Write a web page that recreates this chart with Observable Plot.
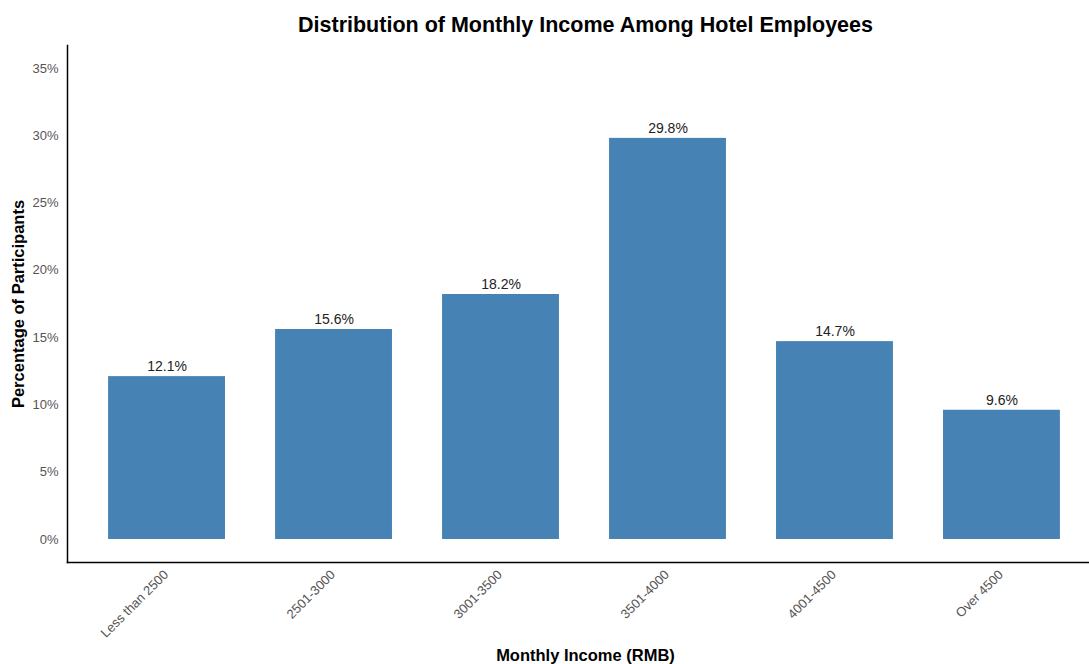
<!DOCTYPE html>
<html>
<head>
<meta charset="utf-8">
<script src="https://cdn.jsdelivr.net/npm/d3@7"></script>
<script src="https://cdn.jsdelivr.net/npm/@observablehq/plot@0.6"></script>
<style>
  body { margin: 0; background: #fff; }
  svg { font-family: "Liberation Sans", Arial, sans-serif; }
</style>
</head>
<body>
<div id="chart"></div>
<script>
const categories = ["Less than 2500", "2501-3000", "3001-3500", "3501-4000", "4001-4500", "Over 4500"];
const percentages = [12.1, 15.6, 18.2, 29.8, 14.7, 9.6];
const yTicks = [0, 5, 10, 15, 20, 25, 30, 35];
const titleText = "Distribution of Monthly Income Among Hotel Employees";
const xLabel = "Monthly Income (RMB)";
const yLabel = "Percentage of Participants";

const data = categories.map((c, i) => ({category: c, value: percentages[i]}));

const chart = Plot.plot({
  width: 1089,
  height: 664,
  marginLeft: 67,
  marginRight: 0,
  marginTop: 45,
  marginBottom: 102,
  style: {fontFamily: "Liberation Sans, Arial, sans-serif", background: "#fff"},
  x: {domain: categories, range: [58, 1110], padding: 0.3, round: false},
  y: {domain: [-1.71, 36.7]},
  marks: [
    Plot.barY(data, {x: "category", y1: 0, y2: "value", fill: "#4682b4"}),
    Plot.text(data, {x: "category", y: "value", text: d => d.value.toFixed(1) + "%", dy: -10, fontSize: 14, fill: "#222"}),
    Plot.axisY({ticks: yTicks, tickSize: 0, tickPadding: 9, tickFormat: d => d + "%", fontSize: 13, fill: "#555", label: null}),
    Plot.axisX({tickSize: 0, tickRotate: -45, tickPadding: 10, dx: -1, fontSize: 13, fill: "#555", label: null}),
    Plot.frame({anchor: "left", stroke: "#000", strokeWidth: 1.5}),
    Plot.frame({anchor: "bottom", stroke: "#000", strokeWidth: 1.5}),
    Plot.text([titleText], {frameAnchor: "top", text: d => d, dy: -20, dx: 585 - 578, lineAnchor: "middle", fontSize: 21.5, fontWeight: "bold", fill: "#000"}),
    Plot.text([xLabel], {frameAnchor: "bottom", text: d => d, dy: 93, dx: 585 - 578, lineAnchor: "middle", fontSize: 16.5, fontWeight: "bold", fill: "#000"}),
    Plot.text([yLabel], {frameAnchor: "left", text: d => d, dx: -49, rotate: -90, textAnchor: "middle", lineAnchor: "middle", fontSize: 16.5, fontWeight: "bold", fill: "#000"})
  ]
});
document.getElementById("chart").appendChild(chart);
</script>
</body>
</html>
